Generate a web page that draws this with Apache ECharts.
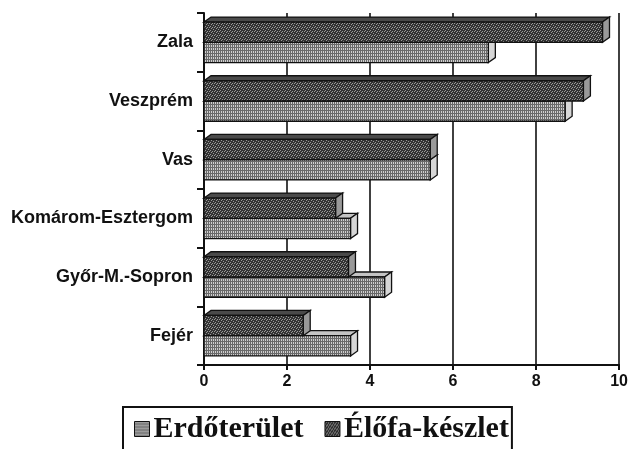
<!DOCTYPE html>
<html>
<head>
<meta charset="utf-8">
<script src="https://cdn.jsdelivr.net/npm/echarts@6/dist/echarts.min.js"></script>
<style>
  html, body { margin: 0; padding: 0; background: #fff; }
  #chart { width: 631px; height: 449px; }
</style>
</head>
<body>
<div id="chart"></div>
<script>
const counties = ['Zala', 'Veszprém', 'Vas', 'Komárom-Esztergom', 'Győr-M.-Sopron', 'Fejér'];
const erdoterulet = [6.85, 8.7, 5.45, 3.53, 4.35, 3.53];
const elofaKeszlet = [9.6, 9.14, 5.45, 3.17, 3.48, 2.39];
const xTicks = [0, 2, 4, 6, 8, 10];

// small repeating textures, like the old print hatching
function makePattern(w, h, bg, fg, dots) {
    const c = document.createElement('canvas');
    c.width = w; c.height = h;
    const ctx = c.getContext('2d');
    ctx.fillStyle = bg;
    ctx.fillRect(0, 0, w, h);
    ctx.fillStyle = fg;
    dots.forEach(d => ctx.fillRect(d[0], d[1], 1, 1));
    return { image: c, repeat: 'repeat' };
}
// light grid hatching
const lightDots = [];
for (let y = 0; y < 3; y++) lightDots.push([0, y]);
for (let x = 0; x < 2; x++) lightDots.push([x, 2]);
const lightFill = makePattern(2, 3, '#cfcfcf', '#696969', lightDots);
// dark speckle
const darkFill = makePattern(5, 4, '#333', '#999', [[1, 0], [3, 1], [0, 2], [4, 3], [2, 3]]);

const dx = 7, dy = 5;

function barRenderer(slot, front, top, side) {
    return function (params, api) {
        const cat = api.value(1);
        const val = api.value(0);
        const base = api.coord([0, cat]);
        const end = api.coord([val, cat]);
        const band = api.size([0, 1])[1];
        const h = band * 0.345;
        const y0 = slot === 0 ? base[1] - h : base[1];
        const x0 = base[0], x1 = end[0];
        const stroke = { stroke: '#111', lineWidth: 1.3 };
        return {
            type: 'group',
            children: [
                { type: 'polygon', shape: { points: [[x0, y0], [x0 + dx, y0 - dy], [x1 + dx, y0 - dy], [x1, y0]] },
                  style: Object.assign({ fill: top }, stroke) },
                { type: 'polygon', shape: { points: [[x1, y0], [x1 + dx, y0 - dy], [x1 + dx, y0 + h - dy], [x1, y0 + h]] },
                  style: Object.assign({ fill: side }, stroke) },
                { type: 'rect', shape: { x: x0, y: y0, width: x1 - x0, height: h },
                  style: Object.assign({ fill: front }, stroke) }
            ]
        };
    };
}

const chart = echarts.init(document.getElementById('chart'));
const option = {
    animation: false,
    backgroundColor: '#fff',
    grid: { left: 204, right: 8, top: 13, bottom: 84 },
    legend: {
        top: 407,
        left: 123,
        itemWidth: 15,
        itemHeight: 15,
        itemGap: 21,
        padding: [7, 3, 9, 11],
        borderColor: '#111',
        borderWidth: 2,
        textStyle: { fontFamily: 'Liberation Serif', fontWeight: 'bold', fontSize: 30, color: '#111', padding: [0, 0, 0, -1] },
        data: [
            { name: 'Erdőterület', icon: 'rect', itemStyle: { color: lightFill, borderColor: '#111', borderWidth: 1 } },
            { name: 'Élőfa-készlet', icon: 'rect', itemStyle: { color: darkFill, borderColor: '#111', borderWidth: 1 } }
        ]
    },
    xAxis: {
        type: 'value',
        min: 0,
        max: 10,
        interval: 2,
        axisLine: { show: true, lineStyle: { color: '#111', width: 2 } },
        axisTick: { show: true, length: 5, lineStyle: { color: '#111', width: 2 } },
        axisLabel: { fontFamily: 'Liberation Sans', fontWeight: 'bold', fontSize: 16, color: '#111', margin: 9,
                     formatter: v => xTicks.includes(v) ? String(v) : '' },
        splitLine: { show: true, lineStyle: { color: '#111', width: 1.6 } }
    },
    yAxis: {
        type: 'category',
        inverse: true,
        data: counties,
        axisLine: { show: true, lineStyle: { color: '#111', width: 2 } },
        axisTick: { show: true, length: 7, lineStyle: { color: '#111', width: 2 } },
        axisLabel: { fontFamily: 'Liberation Sans', fontWeight: 'bold', fontSize: 18, color: '#111', margin: 11 }
    },
    series: [
        {
            name: 'Erdőterület',
            type: 'custom',
            itemStyle: { color: '#a9a9a9' },
            renderItem: barRenderer(1, lightFill, '#c4c4c4', '#d6d6d6'),
            encode: { x: 0, y: 1 },
            data: erdoterulet.map((v, i) => [v, i]),
            z: 2
        },
        {
            name: 'Élőfa-készlet',
            type: 'custom',
            itemStyle: { color: '#5a5a5a' },
            renderItem: barRenderer(0, darkFill, '#4a4a4a', '#999'),
            encode: { x: 0, y: 1 },
            data: elofaKeszlet.map((v, i) => [v, i]),
            z: 3
        }
    ]
};
chart.setOption(option);
</script>
</body>
</html>
